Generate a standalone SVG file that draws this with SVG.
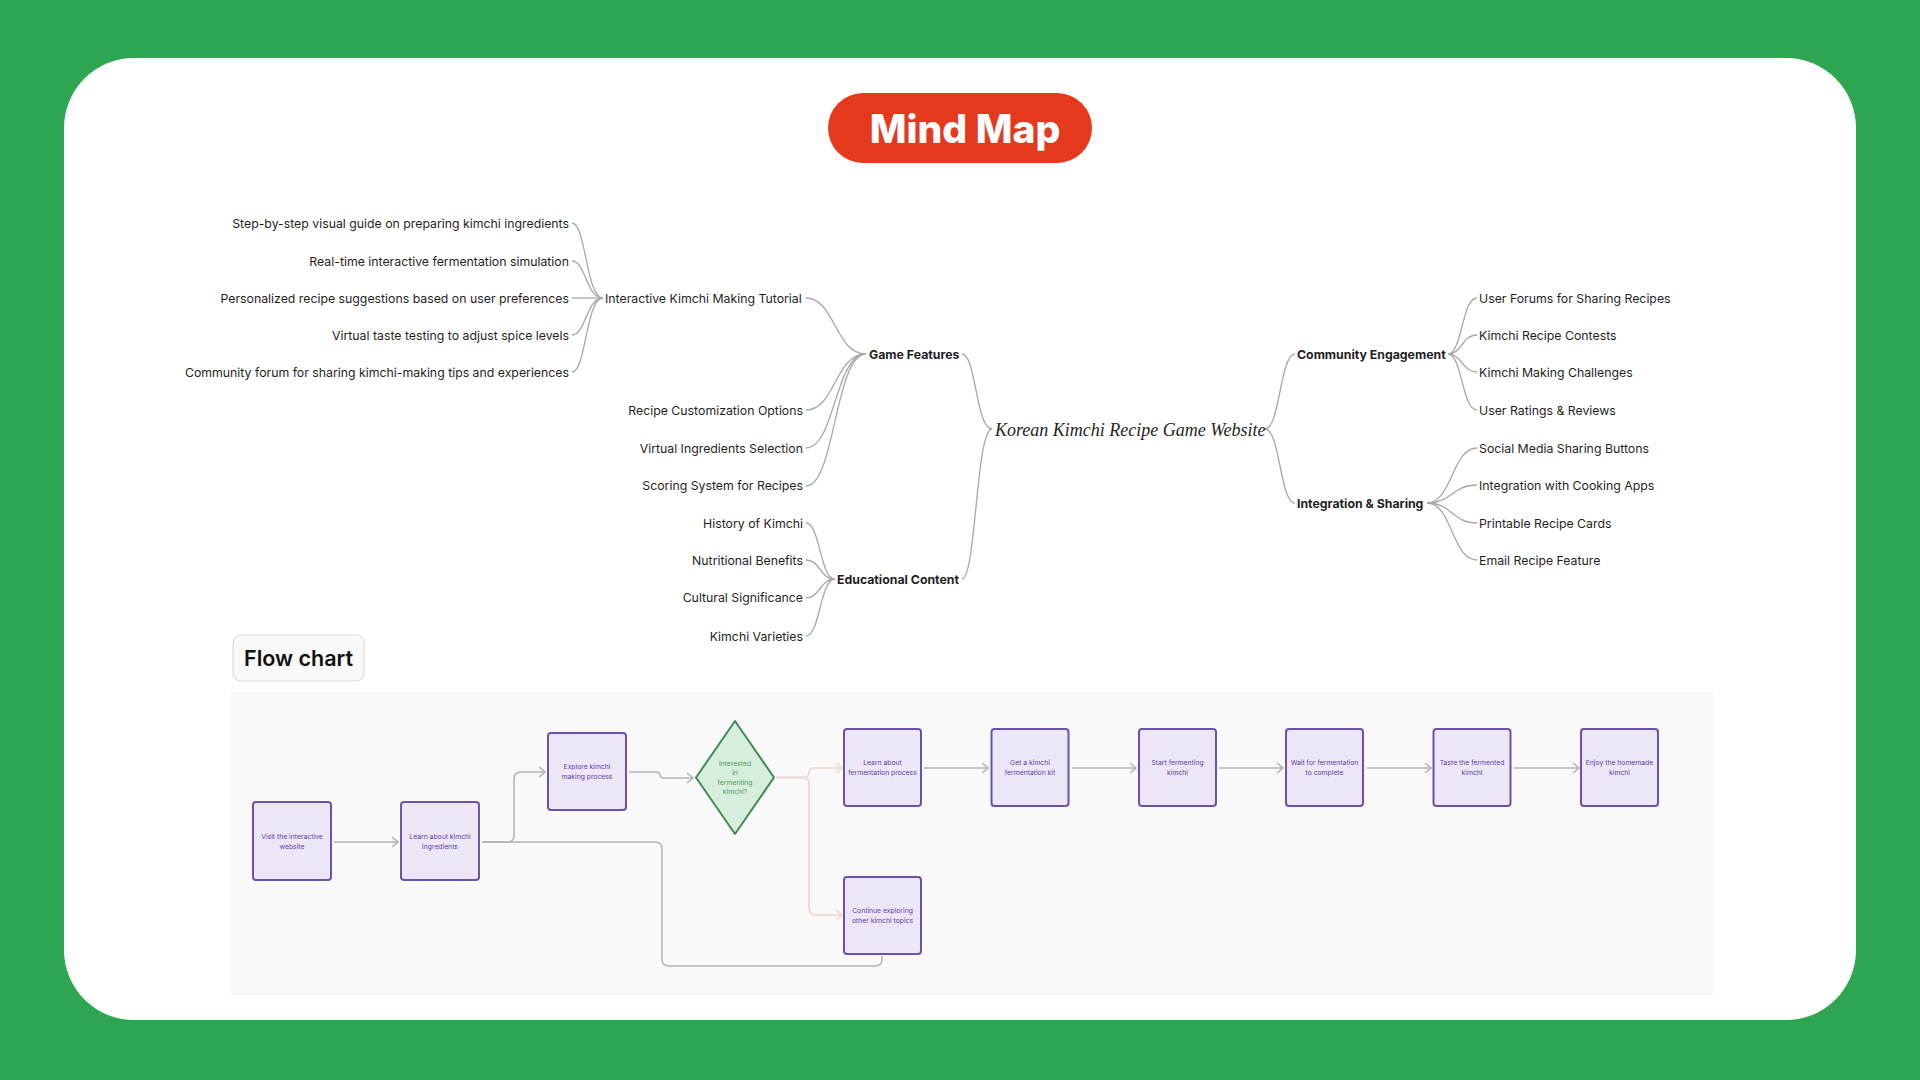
<svg xmlns="http://www.w3.org/2000/svg" width="1920" height="1080" viewBox="0 0 1920 1080">
<style>
.mm{font-family:Inter,"Noto Sans",sans-serif;font-size:12.3px;fill:#1f1f1f}
.b{font-weight:700}
.e{text-anchor:end}
.root{font-family:"Liberation Serif",serif;font-style:italic;font-size:18px;fill:#1f1f1f}
.lk{fill:none;stroke:#a8a8a8;stroke-width:1.3}
.fn rect{fill:#ece6f6;stroke:#6a52ad;stroke-width:2}
.ft{font-family:Inter,"Noto Sans",sans-serif;font-size:6.8px;fill:#5d43a3;text-anchor:middle}
.dt{font-family:Inter,"Noto Sans",sans-serif;font-size:6.8px;fill:#4f9a62;text-anchor:middle}
.fl{fill:none;stroke:#b3b3b3;stroke-width:1.5}
.fp{fill:none;stroke:#eedcd5;stroke-width:2}
</style>
<defs>
<marker id="ar" viewBox="0 0 8 12" refX="7" refY="6" markerWidth="8" markerHeight="12" markerUnits="userSpaceOnUse" orient="auto"><path d="M1,1 L7,6 L1,11" fill="none" stroke="#b3b3b3" stroke-width="1.5"/></marker>
<marker id="arp" viewBox="0 0 8 12" refX="7" refY="6" markerWidth="8" markerHeight="12" markerUnits="userSpaceOnUse" orient="auto"><path d="M1,1 L7,6 L1,11" fill="none" stroke="#eedcd5" stroke-width="1.8"/></marker>
</defs>
<rect x="0" y="0" width="1920" height="1080" fill="#2ea552"/>
<rect x="64" y="58" width="1792" height="962" rx="70" fill="#ffffff"/>

<g id="title">
<rect x="828" y="93" width="264" height="70" rx="35" fill="#e5391d"/>
<text x="965" y="143" text-anchor="middle" font-family="Inter,'Noto Sans',sans-serif" font-weight="800" font-size="39" fill="#ffffff">Mind Map</text>
</g>

<g id="mindmap-links">
<path class="lk" d="M572,223 C586,223 586,298 603,298"/>
<path class="lk" d="M572,261 C586,261 586,298 603,298"/>
<path class="lk" d="M572,298 L603,298"/>
<path class="lk" d="M572,335 C586,335 586,298 603,298"/>
<path class="lk" d="M572,372 C586,372 586,298 603,298"/>
<path class="lk" d="M806,298 C835,298 835,354 866,354"/>
<path class="lk" d="M806,410 C835,410 835,354 866,354"/>
<path class="lk" d="M806,448 C835,448 835,354 866,354"/>
<path class="lk" d="M806,486 C835,486 835,354 866,354"/>
<path class="lk" d="M806,523 C820,523 820,579 835,579"/>
<path class="lk" d="M806,560 C820,560 820,579 835,579"/>
<path class="lk" d="M806,598 C820,598 820,579 835,579"/>
<path class="lk" d="M806,636 C820,636 820,579 835,579"/>
<path class="lk" d="M962,354 C976,354 976,429 992,429"/>
<path class="lk" d="M962,579 C976,579 976,429 992,429"/>
<path class="lk" d="M1265,429 C1280,429 1280,354 1295,354"/>
<path class="lk" d="M1265,429 C1280,429 1280,503 1295,503"/>
<path class="lk" d="M1448,354 C1462,354 1462,298 1477,298"/>
<path class="lk" d="M1448,354 C1462,354 1462,335 1477,335"/>
<path class="lk" d="M1448,354 C1462,354 1462,372 1477,372"/>
<path class="lk" d="M1448,354 C1462,354 1462,410 1477,410"/>
<path class="lk" d="M1427,503 C1452,503 1452,448 1477,448"/>
<path class="lk" d="M1427,503 C1452,503 1452,485 1477,485"/>
<path class="lk" d="M1427,503 C1452,503 1452,523 1477,523"/>
<path class="lk" d="M1427,503 C1452,503 1452,560 1477,560"/>
</g>

<g id="mm-l1"><text class="mm e" x="569" y="227.5">Step-by-step visual guide on preparing kimchi ingredients</text></g>
<g id="mm-l2"><text class="mm e" x="569" y="265.5">Real-time interactive fermentation simulation</text></g>
<g id="mm-l3"><text class="mm e" x="569" y="302.5">Personalized recipe suggestions based on user preferences</text></g>
<g id="mm-l4"><text class="mm e" x="569" y="339.5">Virtual taste testing to adjust spice levels</text></g>
<g id="mm-l5"><text class="mm e" x="569" y="376.5">Community forum for sharing kimchi-making tips and experiences</text></g>
<g id="mm-tutorial"><text class="mm" x="605" y="302.5">Interactive Kimchi Making Tutorial</text></g>
<g id="mm-custom"><text class="mm e" x="803" y="414.5">Recipe Customization Options</text></g>
<g id="mm-ingr"><text class="mm e" x="803" y="452.5">Virtual Ingredients Selection</text></g>
<g id="mm-score"><text class="mm e" x="803" y="490">Scoring System for Recipes</text></g>
<g id="mm-history"><text class="mm e" x="803" y="527.5">History of Kimchi</text></g>
<g id="mm-nutri"><text class="mm e" x="803" y="564.5">Nutritional Benefits</text></g>
<g id="mm-culture"><text class="mm e" x="803" y="602">Cultural Significance</text></g>
<g id="mm-varieties"><text class="mm e" x="803" y="640.5">Kimchi Varieties</text></g>
<g id="mm-game"><text class="mm b" x="869" y="358.5">Game Features</text></g>
<g id="mm-edu"><text class="mm b" x="837" y="583.5">Educational Content</text></g>
<g id="mm-root"><text class="root" x="995" y="436">Korean Kimchi Recipe Game Website</text></g>
<g id="mm-community"><text class="mm b" x="1297" y="358.5">Community Engagement</text></g>
<g id="mm-integration"><text class="mm b" x="1297" y="507.5">Integration &amp; Sharing</text></g>
<g id="mm-r1"><text class="mm" x="1479" y="302.5">User Forums for Sharing Recipes</text></g>
<g id="mm-r2"><text class="mm" x="1479" y="339.5">Kimchi Recipe Contests</text></g>
<g id="mm-r3"><text class="mm" x="1479" y="376.5">Kimchi Making Challenges</text></g>
<g id="mm-r4"><text class="mm" x="1479" y="414.5">User Ratings &amp; Reviews</text></g>
<g id="mm-r5"><text class="mm" x="1479" y="452.5">Social Media Sharing Buttons</text></g>
<g id="mm-r6"><text class="mm" x="1479" y="489.5">Integration with Cooking Apps</text></g>
<g id="mm-r7"><text class="mm" x="1479" y="527.5">Printable Recipe Cards</text></g>
<g id="mm-r8"><text class="mm" x="1479" y="564.5">Email Recipe Feature</text></g>

<g id="flow-label">
<rect x="233" y="635" width="131" height="46" rx="8" fill="#f9f9f9" stroke="#dcdcdc" stroke-width="1.2"/>
<text x="244" y="666" font-family="Inter,'Noto Sans',sans-serif" font-weight="600" font-size="21.5" fill="#111111">Flow chart</text>
</g>

<rect x="232" y="693" width="1480" height="301" fill="#f9f9fa" stroke="#f1f1f3" stroke-width="1"/>

<g id="flow-links">
<path class="fl" d="M334,842 H398" marker-end="url(#ar)"/>
<path class="fl" d="M482,842 H507 Q514,842 514,835 V779 Q514,772 521,772 H545" marker-end="url(#ar)"/>
<path class="fl" d="M482,842 H655 Q662,842 662,849 V959 Q662,966 669,966 H875 Q882,966 882,959 V956"/>
<path class="fl" d="M629,772 H656 Q660,772 660,775 Q660,778 664,778 H693" marker-end="url(#ar)"/>
<path class="fp" d="M776,777.5 H802 Q809,777.5 809,773 Q809,768 814,768 H842" marker-end="url(#arp)"/>
<path class="fp" d="M776,777.5 H802 Q809,777.5 809,784 V908 Q809,915 816,915 H842" marker-end="url(#arp)"/>
<path class="fl" d="M924,768 H988" marker-end="url(#ar)"/>
<path class="fl" d="M1072,768 H1136" marker-end="url(#ar)"/>
<path class="fl" d="M1219,768 H1283" marker-end="url(#ar)"/>
<path class="fl" d="M1367,768 H1431" marker-end="url(#ar)"/>
<path class="fl" d="M1514,768 H1579" marker-end="url(#ar)"/>
</g>

<g id="f1" class="fn"><rect x="253" y="802" width="78" height="78" rx="3"/><text class="ft" x="292" y="839">Visit the interactive</text><text class="ft" x="292" y="848.5">website</text></g>
<g id="f2" class="fn"><rect x="401" y="802" width="78" height="78" rx="3"/><text class="ft" x="440" y="839">Learn about kimchi</text><text class="ft" x="440" y="848.5">ingredients</text></g>
<g id="f3" class="fn"><rect x="548" y="733" width="78" height="77" rx="3"/><text class="ft" x="587" y="769">Explore kimchi</text><text class="ft" x="587" y="778.5">making process</text></g>
<g id="f4"><polygon points="696,777.5 735,721 774,777.5 735,834" fill="#d6eedb" stroke="#3f8b53" stroke-width="2" stroke-linejoin="round"/><text class="dt" x="735" y="765.5">Interested</text><text class="dt" x="735" y="775">in</text><text class="dt" x="735" y="784.5">fermenting</text><text class="dt" x="735" y="794">kimchi?</text></g>
<g id="f5" class="fn"><rect x="844" y="729" width="77" height="77" rx="3"/><text class="ft" x="882.5" y="765">Learn about</text><text class="ft" x="882.5" y="774.5">fermentation process</text></g>
<g id="f6" class="fn"><rect x="991.5" y="729" width="77" height="77" rx="3"/><text class="ft" x="1030" y="765">Get a kimchi</text><text class="ft" x="1030" y="774.5">fermentation kit</text></g>
<g id="f7" class="fn"><rect x="1139" y="729" width="77" height="77" rx="3"/><text class="ft" x="1177.5" y="765">Start fermenting</text><text class="ft" x="1177.5" y="774.5">kimchi</text></g>
<g id="f8" class="fn"><rect x="1286" y="729" width="77" height="77" rx="3"/><text class="ft" x="1324.5" y="765">Wait for fermentation</text><text class="ft" x="1324.5" y="774.5">to complete</text></g>
<g id="f9" class="fn"><rect x="1433.5" y="729" width="77" height="77" rx="3"/><text class="ft" x="1472" y="765">Taste the fermented</text><text class="ft" x="1472" y="774.5">kimchi</text></g>
<g id="f10" class="fn"><rect x="1581" y="729" width="77" height="77" rx="3"/><text class="ft" x="1619.5" y="765">Enjoy the homemade</text><text class="ft" x="1619.5" y="774.5">kimchi</text></g>
<g id="f11" class="fn"><rect x="844" y="877" width="77" height="77" rx="3"/><text class="ft" x="882.5" y="913">Continue exploring</text><text class="ft" x="882.5" y="922.5">other kimchi topics</text></g>
</svg>
